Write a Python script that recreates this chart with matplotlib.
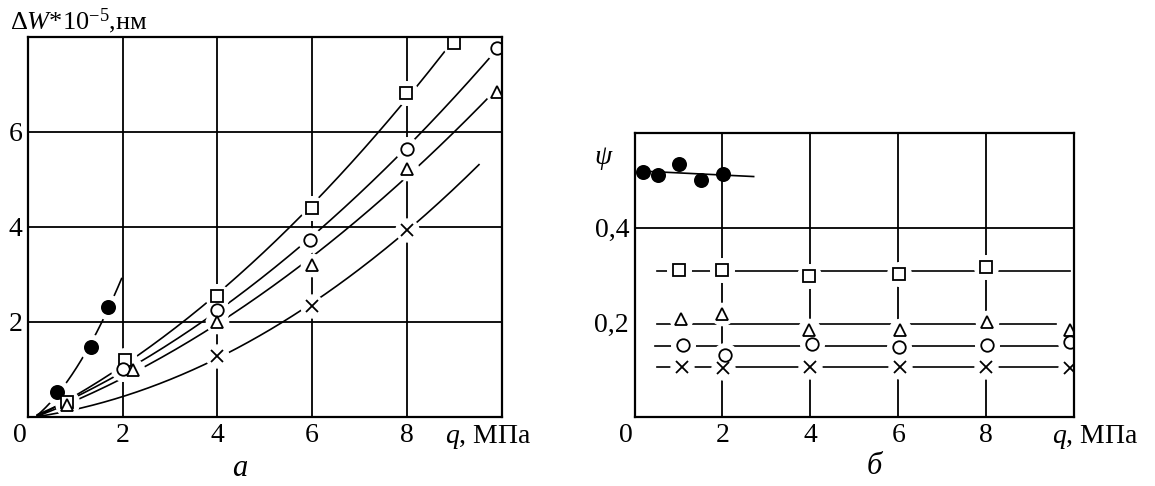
import matplotlib
matplotlib.use("Agg")
import matplotlib.pyplot as plt
import matplotlib.transforms as mtransforms
import numpy as np

plt.rcParams['font.family'] = ['Liberation Serif', 'DejaVu Serif']
plt.rcParams['mathtext.fontset'] = 'custom'
plt.rcParams['mathtext.rm'] = 'Liberation Serif'
plt.rcParams['mathtext.it'] = 'Liberation Serif:italic'

# ---- panel a: dW*1e-5 vs q ----
q_dot_a = [0.61, 1.33, 1.70]
w_dot_a = [0.53, 1.47, 2.32]
q_sq_a = [0.82, 2.06, 4.0, 6.0, 7.98, 8.99]
w_sq_a = [0.32, 1.20, 2.55, 4.40, 6.82, 7.87]
q_ci_a = [2.01, 4.0, 5.96, 8.0, 9.89]
w_ci_a = [1.02, 2.25, 3.73, 5.64, 7.76]
q_tr_a = [0.82, 2.22, 4.0, 6.0, 8.0, 9.89]
w_tr_a = [0.25, 0.99, 1.99, 3.20, 5.22, 6.85]
q_x_a = [4.0, 6.0, 8.0]
w_x_a = [1.28, 2.34, 3.94]

# ---- panel b: psi vs q ----
q_dot_b = [0.20, 0.54, 1.01, 1.51, 2.01]
p_dot_b = [0.518, 0.510, 0.534, 0.500, 0.513]
q_sq_b = [1.01, 2.0, 3.98, 6.01, 8.0]
p_sq_b = [0.311, 0.311, 0.297, 0.303, 0.316]
q_tr_b = [1.06, 2.0, 3.98, 6.03, 8.02, 9.9]
p_tr_b = [0.208, 0.218, 0.185, 0.185, 0.201, 0.185]
q_ci_b = [1.11, 2.05, 4.04, 6.01, 8.01, 9.9]
p_ci_b = [0.152, 0.131, 0.155, 0.148, 0.152, 0.159]
q_x_b = [1.07, 2.02, 4.0, 6.03, 8.0, 9.9]
p_x_b = [0.106, 0.103, 0.106, 0.106, 0.106, 0.104]

Q0 = 0.2  # curves in panel a start here
FS = 20


def style_axes(ax):
    ax.set_axisbelow(True)
    for s in ax.spines.values():
        s.set_linewidth(1.6)
        s.set_zorder(6)
    ax.tick_params(length=0, labelsize=FS, pad=4)


def marked(ax, x, y, marker, ms=9, filled=False, halo=True):
    # white halo makes the breaks in lines around each point
    if halo:
        ax.plot(x, y, ls='none', marker='o', ms=ms + 8, mfc='white', mec='white', zorder=3)
    ax.plot(x, y, ls='none', marker=marker, ms=ms, mew=1.3,
            mfc='black' if filled else 'white', mec='black', zorder=4)


def fit_curve(ax, x, y, x_end, deg=2):
    xs = np.r_[Q0, x]
    ys = np.r_[0.0, y]
    c = np.polyfit(xs, ys, deg)
    xx = np.linspace(Q0, x_end, 200)
    ax.plot(xx, np.polyval(c, xx), color='black', lw=1.2, zorder=2)


fig = plt.figure(figsize=(11.55, 4.86), dpi=100)

# panel a
ax1 = fig.add_axes([0.024, 0.142, 0.4104, 0.782])
style_axes(ax1)
ax1.set_xlim(0, 10)
ax1.set_ylim(0, 8)
ax1.set_xticks([0, 2, 4, 6, 8])
ax1.set_xticklabels(['0', '2', '4', '6', '8'])
ax1.set_yticks([2, 4, 6])
ax1.grid(True, color='black', lw=1.3)

fit_curve(ax1, q_dot_a, w_dot_a, 1.98)
fit_curve(ax1, q_sq_a, w_sq_a, 8.99)
fit_curve(ax1, q_ci_a, w_ci_a, 9.89)
fit_curve(ax1, q_tr_a, w_tr_a, 9.89)
fit_curve(ax1, q_x_a, w_x_a, 9.52)

marked(ax1, q_dot_a, w_dot_a, 'o', ms=9.5, filled=True)
marked(ax1, q_sq_a, w_sq_a, 's')
marked(ax1, q_ci_a, w_ci_a, 'o')
marked(ax1, q_tr_a, w_tr_a, '^', ms=8)
marked(ax1, q_x_a, w_x_a, 'x', ms=8.5)

# panel b
ax2 = fig.add_axes([0.5494, 0.1414, 0.3805, 0.5856])
style_axes(ax2)
ax2.set_xlim(0, 10)
ax2.set_ylim(0, 0.6)
ax2.set_xticks([0, 2, 4, 6, 8])
ax2.set_xticklabels(['0', '2', '4', '6', '8'])
ax2.set_yticks([0.2, 0.4])
ax2.set_yticklabels(['0,2', '0,4'])
ax2.grid(True, axis='x', color='black', lw=1.3)
ax2.axhline(0.4, color='black', lw=1.3, zorder=0.5)

c = np.polyfit(q_dot_b, p_dot_b, 1)
xx = np.array([0.12, 2.71])
ax2.plot(xx, np.polyval(c, xx), color='black', lw=1.2, zorder=2)
for qs, ps, x0, x1 in [(q_sq_b, p_sq_b, 0.5, 9.9), (q_tr_b, p_tr_b, 0.5, 9.58),
                       (q_ci_b, p_ci_b, 0.47, 10), (q_x_b, p_x_b, 0.5, 10)]:
    ax2.plot([x0, x1], [np.mean(ps)] * 2, color='black', lw=1.2, zorder=2)

marked(ax2, q_dot_b, p_dot_b, 'o', ms=9.5, filled=True, halo=False)
marked(ax2, q_sq_b, p_sq_b, 's')
marked(ax2, q_tr_b, p_tr_b, '^', ms=8)
marked(ax2, q_ci_b, p_ci_b, 'o')
marked(ax2, q_x_b, p_x_b, 'x', ms=8.5)

# nudge the "0" labels to the left of the origin
for ax in (ax1, ax2):
    lab = ax.get_xticklabels()[0]
    lab.set_transform(lab.get_transform() + mtransforms.ScaledTranslation(-6 / 72, 0, fig.dpi_scale_trans))

fig.text(10 / 1155, 1 - 21 / 486, 'Δ$W$*10$^{-5}$,нм', fontsize=19, va='center', ha='left')
fig.text(445 / 1155, 1 - 437 / 486, '$q$, МПа', fontsize=FS, va='center', ha='left')
fig.text(1052 / 1155, 1 - 437 / 486, '$q$, МПа', fontsize=FS, va='center', ha='left')
fig.text(603 / 1155, 1 - 157 / 486, 'ψ', fontsize=FS, style='italic', va='center', ha='center')
fig.text(240 / 1155, 1 - 468 / 486, 'а', fontsize=22, style='italic', va='center', ha='center')
fig.text(874 / 1155, 1 - 466 / 486, 'б', fontsize=22, style='italic', va='center', ha='center')

fig.savefig('out.png', dpi=100)
